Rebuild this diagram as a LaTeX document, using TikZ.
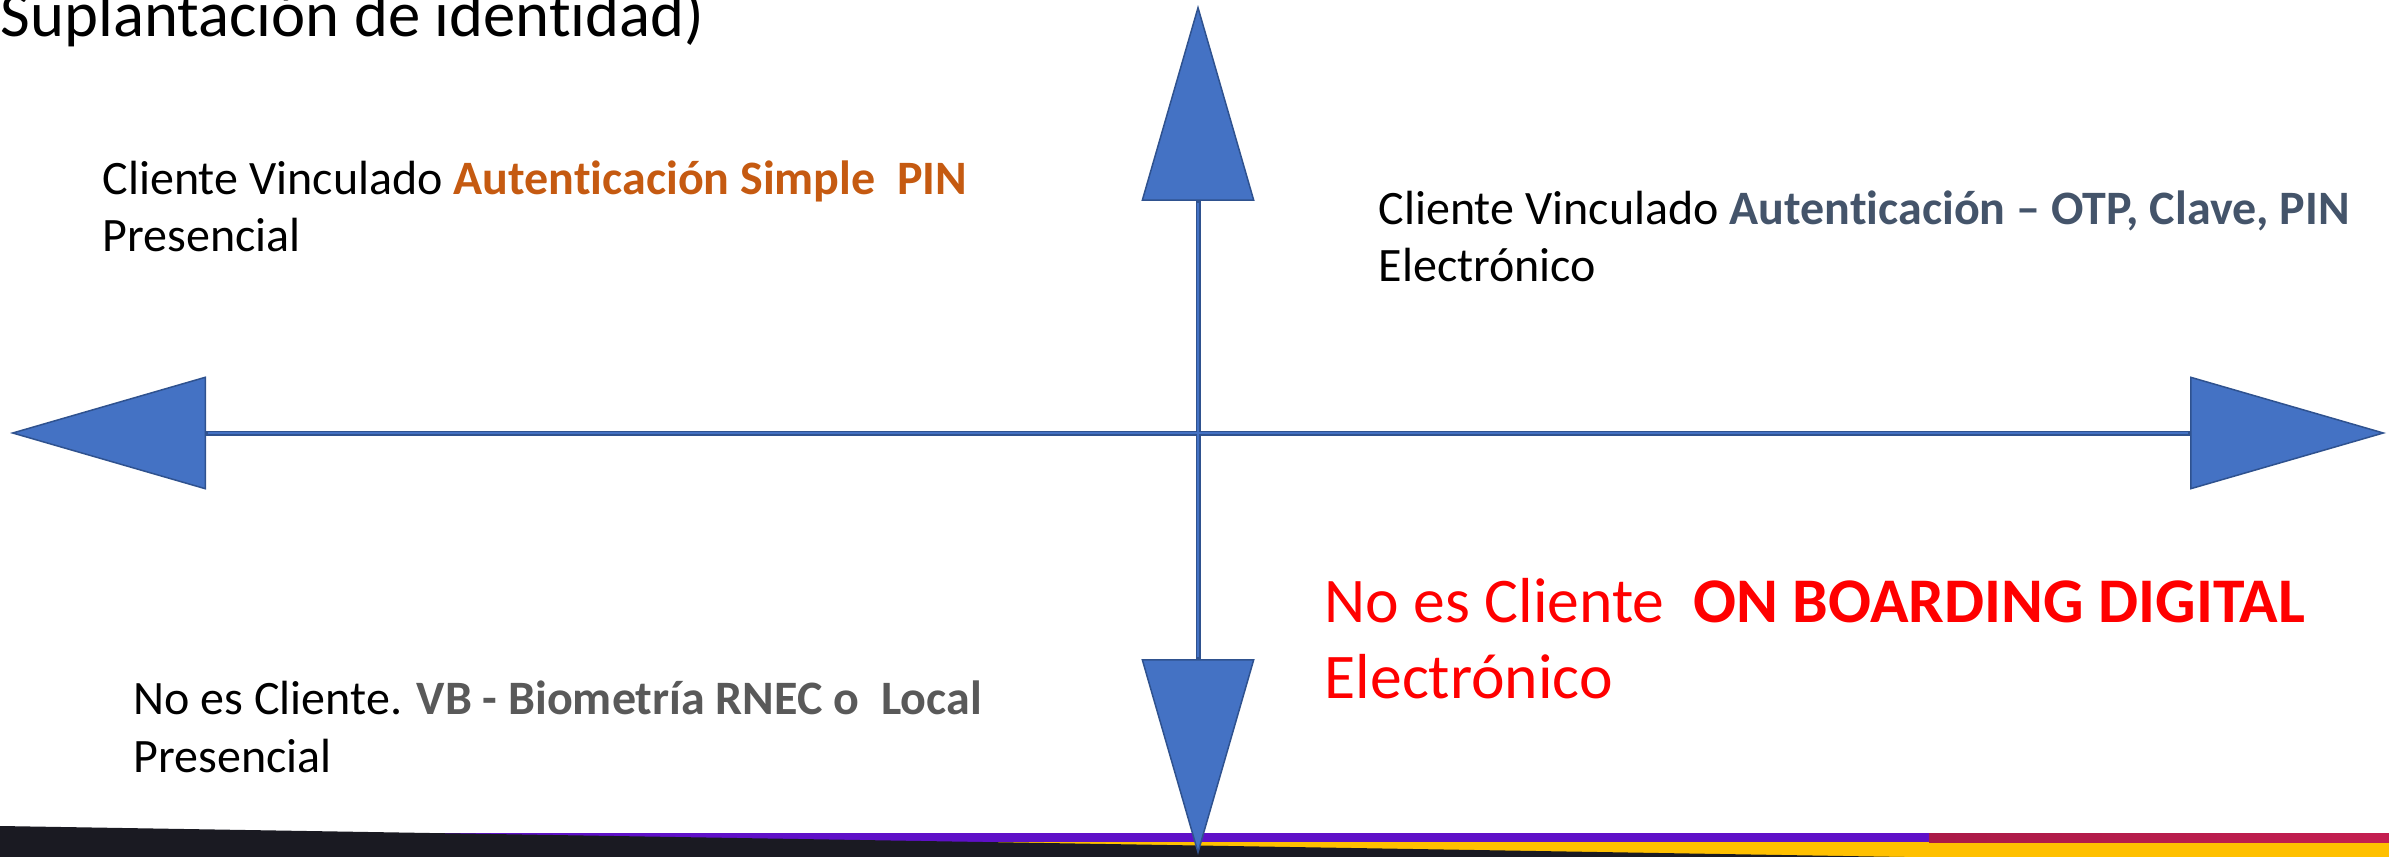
\documentclass[tikz,border=0pt]{standalone}
\usepackage{fontspec}
\setmainfont{Carlito}[Ligatures=NoCommon]
\usetikzlibrary{arrows.meta}
\definecolor{axisfill}{HTML}{4472C4}
\definecolor{axisline}{HTML}{2F528F}
\definecolor{pinorange}{HTML}{C55A11}
\definecolor{otpgray}{HTML}{44546A}
\definecolor{rnecgray}{HTML}{595959}
\definecolor{bandpurple}{HTML}{5F10C8}
\definecolor{bandcrimson}{HTML}{AA1A47}
\definecolor{bandred}{HTML}{C41E50}
\definecolor{bandyellow}{HTML}{FFC000}
\definecolor{bandnavy}{HTML}{1A1A22}
\tikzset{
  quadtxt/.style={anchor=base west,inner sep=0pt,align=left,font=\fontsize{13.66pt}{16.5pt}\selectfont},
  bigtxt/.style={quadtxt,text=red,font=\fontsize{18.1pt}{21.6pt}\selectfont},
  axis/.style={color=axisline,line width=0.5mm,
    >={Triangle[length=19.6mm,width=11.3mm,line width=0.15mm,fill=axisfill]},<->},
  shaft/.style={axisfill,line width=0.26mm,shorten <=19.8mm,shorten >=19.8mm},
}
\begin{document}
\begin{tikzpicture}[x=0.1mm,y=-0.1mm]
  \useasboundingbox(0,0)rectangle(2389,857);
  \clip(0,0)rectangle(2389,857);
  % band at the foot
  \fill[bandyellow](0,842)rectangle(2389,857);
  \fill[bandpurple](0,833)rectangle(1929,842);
  \shade[left color=bandcrimson,right color=bandred](1929,833)rectangle(2389,842);
  \fill[bandnavy](0,826)--(1905,857)--(0,857)--cycle;
  % axes
  \coordinate(W)at(10,433);
  \coordinate(E)at(2386,433);
  \coordinate(N)at(1198,5);
  \coordinate(S)at(1198,855);
  \draw[axis](W)--(E);
  \draw[axis](N)--(S);
  \draw[shaft](W)--(E);
  \draw[shaft](N)--(S);
  % quadrants
  \node[anchor=base west,inner sep=0pt,font=\fontsize{18.4pt}{21.6pt}\selectfont](title)at(0,37){Suplantación de identidad)};
  \node[quadtxt](pin)at(102,252){Cliente Vinculado \textbf{\color{pinorange}Autenticación Simple\ \ PIN}\\Presencial};
  \node[quadtxt](otp)at(1378,282){Cliente Vinculado \textbf{\color{otpgray}Autenticación – OTP, Clave, PIN}\\Electrónico};
  \node[quadtxt](rnec)at(133,772){No es Cliente. \textbf{\color{rnecgray}VB - Biometría RNEC o\ \ Local}\\Presencial};
  \node[bigtxt](onb)at(1324,698){No es Cliente\ \ \textbf{ON BOARDING DIGITAL}\\Electrónico};
\end{tikzpicture}
\end{document}
